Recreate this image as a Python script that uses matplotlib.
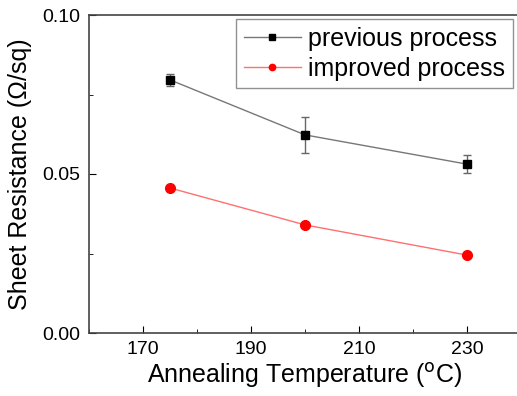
import numpy as np
import matplotlib.pyplot as plt
from matplotlib.ticker import MultipleLocator

plt.rcParams['font.family'] = ['Liberation Sans', 'DejaVu Sans']

temps = [175, 200, 230]
previous = [0.0796, 0.0623, 0.0531]
previous_err = [0.0020, 0.0057, 0.0028]
improved = [0.0456, 0.0340, 0.0245]

fig = plt.figure(figsize=(5.17, 3.96), dpi=100)
# right spine falls just past the image edge, as in the original
ax = fig.add_axes([89/517, 63/396, 432/517, 318/396])

ax.errorbar(temps, previous, yerr=previous_err, fmt='none', ecolor='#666666',
            elinewidth=1, capsize=3)
ax.plot(temps, previous, color='#777777', lw=1, marker='s', ms=6,
        mfc='black', mec='black', label='previous process')
ax.plot(temps, improved, color='#ff7070', lw=1, marker='o', ms=7,
        mfc='red', mec='red', label='improved process')

ax.set_xlim(160, 240)
ax.set_ylim(0, 0.10)
ax.set_xticks([170, 190, 210, 230])
ax.xaxis.set_minor_locator(MultipleLocator(10))
ax.set_yticks([0.00, 0.05, 0.10])
ax.yaxis.set_minor_locator(MultipleLocator(0.025))
ax.tick_params(direction='in', which='both', labelsize=14, pad=6)
ax.tick_params(which='major', length=5)
ax.tick_params(which='minor', length=3)
for s in ax.spines.values():
    s.set_color('#444444')
    s.set_linewidth(1.2)

ax.set_xlabel('Annealing Temperature ($^{\\rm o}$C)', fontsize=18, labelpad=2)
ax.set_ylabel('Sheet Resistance (\u03a9/sq)', fontsize=18, labelpad=8)

ax.legend(loc='upper right', bbox_to_anchor=(424/432, 1 - 4/318), fontsize=18,
          frameon=True, fancybox=False, edgecolor='#777777', borderpad=0.3,
          handlelength=2.3, handletextpad=0.3, labelspacing=0.25,
          borderaxespad=0, markerscale=0.65)

fig.savefig('out.png', dpi=100)
